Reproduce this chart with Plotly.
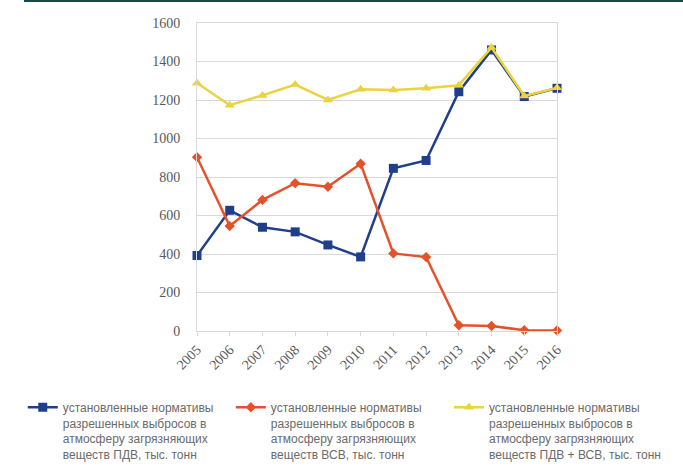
import plotly.graph_objects as go

years = ["2005", "2006", "2007", "2008", "2009", "2010", "2011", "2012", "2013", "2014", "2015", "2016"]
pdv = [392, 627, 539, 515, 447, 385, 845, 886, 1243, 1460, 1218, 1261]
vsv = [903, 545, 681, 768, 749, 869, 403, 384, 30, 26, 4, 3]
total = [1288, 1173, 1224, 1280, 1200, 1256, 1252, 1261, 1277, 1473, 1221, 1263]
yticks = [0, 200, 400, 600, 800, 1000, 1200, 1400, 1600]

names = [
    "установленные нормативы<br>разрешенных выбросов в<br>атмосферу загрязняющих<br>веществ ПДВ, тыс. тонн",
    "установленные нормативы<br>разрешенных выбросов в<br>атмосферу загрязняющих<br>веществ ВСВ, тыс. тонн",
    "установленные нормативы<br>разрешенных выбросов в<br>атмосферу загрязняющих<br>веществ ПДВ + ВСВ, тыс. тонн",
]

fig = go.Figure()
fig.add_trace(go.Scatter(x=years, y=pdv, name=names[0], mode="lines+markers", legend="legend",
                         line=dict(color="#1F3E8C", width=2.5),
                         marker=dict(symbol="square", size=9, color="#1F3E8C"),
                         cliponaxis=False))
fig.add_trace(go.Scatter(x=years, y=vsv, name=names[1], mode="lines+markers", legend="legend2",
                         line=dict(color="#E4522A", width=2.5),
                         marker=dict(symbol="diamond", size=8, color="#E4522A"),
                         cliponaxis=False))
fig.add_trace(go.Scatter(x=years, y=total, name=names[2], mode="lines+markers", legend="legend3",
                         line=dict(color="#E9D33F", width=2.5),
                         marker=dict(symbol="triangle-up", size=9, color="#E9D33F"),
                         cliponaxis=False))

leg_common = dict(orientation="v", xanchor="left", y=-0.2013, yanchor="top",
                  itemwidth=30, font=dict(size=12, color="#6b6b6b"),
                  bgcolor="rgba(0,0,0,0)", valign="top")

fig.update_layout(
    width=683, height=469,
    margin=dict(l=197, r=126, t=23, b=138, autoexpand=False),
    paper_bgcolor="white", plot_bgcolor="white",
    font=dict(family="Liberation Sans, Arial, sans-serif", color="#595959"),
    showlegend=True,
    legend=dict(x=-0.484, **leg_common),
    legend2=dict(x=0.094, **leg_common),
    legend3=dict(x=0.700, **leg_common),
    xaxis=dict(type="category", range=[0, 11], tickangle=-45, showgrid=False,
               showline=True, linecolor="#d9d9d9", linewidth=1, mirror=True,
               ticks="outside", ticklen=4, tickcolor="#d9d9d9",
               tickfont=dict(family="Liberation Serif, Times New Roman, serif", size=14, color="#595959")),
    yaxis=dict(range=[0, 1600], tickvals=yticks, showgrid=True, gridcolor="#d9d9d9", gridwidth=1,
               showline=True, linecolor="#d9d9d9", linewidth=1, mirror=True, zeroline=False,
               ticks="", ticklabelstandoff=13,
               tickfont=dict(family="Liberation Serif, Times New Roman, serif", size=14, color="#595959")),
    shapes=[dict(type="rect", xref="paper", yref="paper",
                 x0=(24 - 197) / 360, x1=(683 - 197) / 360,
                 y0=1 + 21 / 308, y1=1 + 23.5 / 308,
                 fillcolor="#174A46", line=dict(width=0), layer="above")],
)

fig.write_html("out.html")
